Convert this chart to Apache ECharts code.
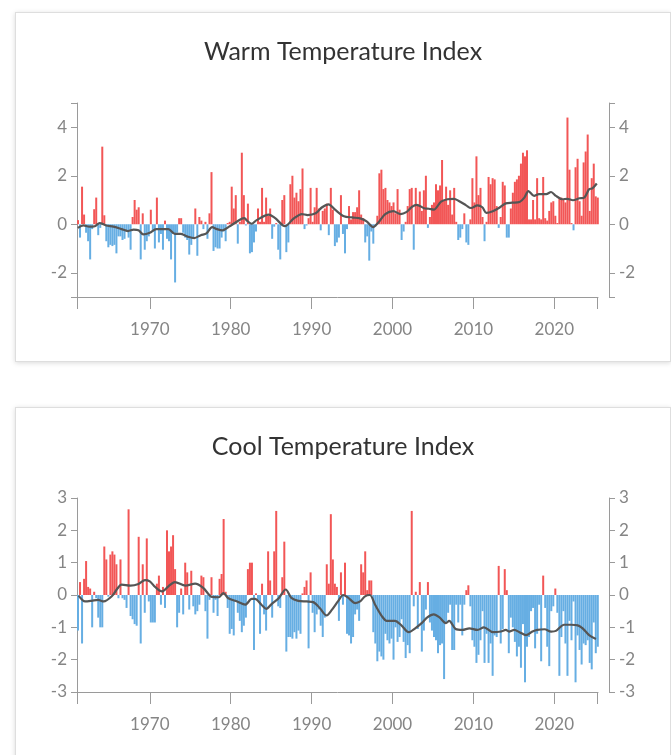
<!DOCTYPE html>
<html>
<head>
<meta charset="utf-8">
<title>Temperature Index</title>
<script src="https://cdn.jsdelivr.net/npm/echarts@6/dist/echarts.min.js"></script>
<style>
    body { margin: 0; background: #fff; font-family: Lato, sans-serif; }
    .card {
        position: absolute;
        left: 15px;
        width: 654px;
        background: #fff;
        border: 1px solid #dedede;
        box-shadow: 0 1px 5px rgba(0, 0, 0, 0.15);
    }
    .chart { width: 654px; height: 348px; }
</style>
</head>
<body>
<div class="card" style="top: 12px; height: 348px;"><div id="warm" class="chart"></div></div>
<div class="card" style="top: 407px; height: 360px;"><div id="cool" class="chart"></div></div>
<script>
// quarterly index values, first bar = 1961 Q1
const warmValues = [
    0.17, -0.55, 1.55, 0.4, -0.35, -0.7, -1.45, -0.2, 0.62, 1.1,
    -0.45, -0.15, 3.2, 0.37, -0.7, -0.95, -0.85, -0.9, -0.85, -1.2,
    -0.5, -0.5, -0.65, -0.6, -0.3, -0.55, -1.05, 0.3, 1.0, 0.6,
    0.7, -1.45, 0.45, -1.05, -0.7, -0.5, 0.6, -0.3, -1.0, 1.1,
    -0.75, -0.4, -1.05, 0.15, -0.6, -0.7, -1.45, -0.4, -2.4, -0.35,
    0.25, 0.25, -0.35, -0.55, -0.65, -1.25, -0.85, -0.6, 0.65, -1.3,
    0.3, 0.15, -0.2, 0.1, -0.6, 0.45, 2.15, -1.1, -0.95, -1.0,
    -1.0, -0.55, -0.3, -0.7, 0.05, 0.1, 1.55, 0.65, 1.2, -0.8,
    0.1, 2.95, 1.2, -0.05, 0.85,
    -1.2, -1.15, -0.75, -0.3, 0.65, 0.1, 1.5, 0.1, 1.1, 0.35,
    0.65, -0.6, -0.1, 0.05, -1.05, -1.45, 1.0, 1.2, -1.15, -0.75,
    1.65, 2.0, 1.1, 1.3, 0.95, 1.45, 2.3, -0.2, -0.05, 0.25,
    1.5, 0.1, 0.7, 1.5, 0.65, -0.25, 0.55, 0.65, 0.85, -0.45,
    1.5, 0.6, -0.9, -0.75, -0.55, 1.2, -0.4, -1.2, -0.2, 0.75,
    0.2, 0.5, 0.5, 0.7, 1.4, 0.4, 0.25, -0.75, -0.5, -1.5,
    -0.3, -0.8, -0.1, 0.35, 2.1, 2.25, 1.45, 1.5, 1.0, 0.9,
    0.75, 0.9, 0.45, 1.45, 0.6, -0.65, -0.3, 0.1, 0.75, 1.45,
    1.5, -1.05, 1.5, 0.8, 1.35, 0.55, 1.4, 2.0,
    -0.15, 0.3, 0.8, 0.9, 1.65, 1.4, 1.6, 2.65, 1.0, 1.55,
    0.8, 1.4, 0.4, 1.5, 0.1, -0.65, -0.55, -0.2, 0.45, -0.75,
    -0.85, 0.2, 1.9, 0.9, 2.8, 1.2, 1.5, 0.3, -0.7, 0.1,
    1.95, 1.65, 1.9, 1.85, 0.75, -0.15, 0.3, 1.75, 1.6, -0.55,
    -0.55, 0.65, 1.3, 1.75, 1.85, 2.0, 2.5, 2.95, 2.8, 3.05,
    0.2, 0.2, 1.0, 0.2, 1.9, 0.25, 0.2, 1.95, 0.25, 0.15,
    0.55, 0.9, 0.95, 0.35, 0.05, 1.1, 1.1, 1.0, 0.9, 4.4,
    2.25, 0.05, -0.25, 2.35, 2.7, 0.95, 0.35, 2.55, 3.0, 3.7,
    0.55, 1.9, 2.5, 1.15, 1.1
];

const coolValues = [
    -1.1, 0.4, -1.5, 0.5, 1.05, 0.25, 0.2, -1.0, 0.1, -0.1,
    -0.7, -1.0, -1.0, 1.5, 1.1, -0.05, 1.25, 1.35, 1.25, 0.95,
    -0.1, 1.1, -0.1, -0.15, -0.4, 2.65, -0.65, -0.75, -0.9, -0.95,
    1.8, -1.5, 0.95, -0.55, 1.75, -0.2, -0.85, -0.85, -0.85, 0.35,
    0.6, -0.3, 0.25, -0.4, 2.0, 1.35, 1.5, 1.85, 0.8, -1.0,
    -0.55, 0.2, -0.6, 1.0, 0.7, -0.45, 0.75, -0.35, -0.6, -0.5,
    -0.3, 0.6, 0.55, -0.5, -1.35, -0.15, 0.55, -0.55, -0.15, -0.65,
    0.5, 0.65, 2.35, 0.1, -0.4, -1.2, -1.05, -1.25, -0.2, -0.55,
    -0.8, -1.15, -0.95, -0.7,
    0.8, 1.0, 1.0, -1.7, 0.05, -0.15, -1.2, 0.35, -0.6, -1.1,
    1.35, 0.45, -0.7, 1.35, 2.6, -0.35, -0.4, 0.55, 1.65, -1.75,
    -1.3, -1.3, -1.35, -1.15, -1.35, -1.1, -1.2, 0.05, 0.25, 0.45,
    -1.65, 0.7, -0.55, -1.15, -0.6, -0.45, -0.95, -1.3, -0.7, 0.95,
    0.35, 2.5, 1.1, 0.35, 0.25, -0.8, 0.7, -0.3, 1.0, -1.2,
    -1.25, -1.5, -1.3, -0.6, -0.45, -0.8, 0.95, 0.7, 1.35, 0.15,
    0.45, 0.45, -1.15, -1.5, -2.05, -1.75, -1.9, -2.0, -1.2, -1.4,
    -1.5, -1.35, -2.0, -1.0, -1.45, -1.3, -0.75, -1.45, -1.95, -1.55,
    -1.8, 2.6, -0.35, 0.1, -1.05, 0.4, -1.75, -1.1, -0.45, 0.4,
    -0.85, -1.1, -1.3, -1.4, -1.8, -1.55, -1.5, -2.6, -0.85, -0.55,
    -0.3, -1.7, -1.7, -0.3, -0.85, -0.3, -1.25, -0.3, 0.15, 0.3,
    -0.35, -1.4, -1.6, -2.1, -1.85, -1.4, -0.5, -2.1, -1.2, -2.1,
    -1.5, -2.5, -1.25, -1.3, 0.9, -1.5, -1.05, 0.8, 0.15, -1.8,
    -0.7, -1.0, -1.45, -1.9, -1.6, -2.25, -0.9, -2.7, -1.6, -1.3,
    -0.5, -0.4, -1.65, -1.2, -0.3, -2.05, 0.6, -0.4, -1.6, -2.2,
    -0.5, -0.35, 0.2, -0.55, -2.5, -1.3, -0.5, -1.5, -2.5, -0.8,
    -1.4, -0.2, -2.7, -1.25, -1.7, -2.15, -1.5, -1.55, -1.4, -2.1,
    -2.3, -0.85, -1.8, -1.6
];

// smoothed trend line
const warmLineYears = [
    1961.1, 1961.8, 1962.5, 1963.2, 1963.8, 1964.6, 1965.5, 1966.5, 1967.3, 1968.0,
    1968.6, 1969.2, 1970.0, 1970.8, 1971.6, 1972.3, 1973.1, 1973.8, 1974.6, 1975.5,
    1976.3, 1977.0, 1977.7, 1978.3, 1979.0, 1979.8, 1980.5, 1981.3, 1981.7, 1982.0,
    1982.6, 1983.2, 1984.7, 1985.5, 1986.7, 1987.8, 1988.8, 1989.5, 1990.5, 1991.3,
    1992.1, 1992.9, 1994.0, 1995.0, 1996.0, 1996.8, 1997.6, 1998.2, 1999.1, 2000.1,
    2001.0, 2001.7, 2002.4, 2003.0, 2003.9, 2004.5, 2005.1, 2006.0, 2006.8, 2007.6,
    2008.2, 2009.1, 2009.7, 2010.5, 2011.1, 2011.6, 2012.4, 2013.2, 2014.0, 2014.8,
    2015.7, 2016.3, 2016.8, 2017.5, 2018.1, 2019.0, 2019.6, 2020.2, 2021.0, 2021.6,
    2022.3, 2023.1, 2023.7, 2024.3, 2024.7, 2025.25
];
const warmLineValues = [
    -0.15, -0.05, -0.1, -0.08, 0.05, -0.05, -0.1, -0.2, -0.28, -0.22,
    -0.25, -0.42, -0.35, -0.2, -0.2, -0.2, -0.4, -0.4, -0.5, -0.57,
    -0.45, -0.38, -0.12, -0.2, -0.25, -0.1, 0.05, 0.22, 0.25, 0.15,
    0.02, 0.17, 0.4, 0.25, -0.08, 0.24, 0.42, 0.38, 0.45, 0.7,
    0.82, 0.6, 0.33, 0.28, 0.24, 0.12, -0.12, 0.05, 0.42, 0.54,
    0.42, 0.5, 0.72, 0.8, 0.66, 0.64, 0.6, 0.93, 1.03, 1.05,
    0.96, 0.78, 0.67, 0.78, 0.7, 0.47, 0.54, 0.68, 0.86, 0.89,
    0.92, 1.1, 1.37, 1.17, 1.24, 1.24, 1.33, 1.17, 1.03, 1.05,
    0.99, 1.07, 1.1, 1.44, 1.48, 1.68
];

const coolLineYears = [
    1961.2, 1962.0, 1962.8, 1963.6, 1964.3, 1965.3, 1966.0, 1966.5, 1967.6, 1968.6,
    1969.4, 1970.0, 1970.65, 1971.5, 1972.3, 1973.1, 1974.4, 1975.6, 1976.6, 1977.7,
    1978.5, 1979.1, 1979.7, 1980.8, 1981.8, 1982.6, 1983.0, 1983.8, 1984.4, 1985.05,
    1985.9, 1986.8, 1987.5, 1988.35, 1989.4, 1990.2, 1991.0, 1991.85, 1992.5, 1993.3,
    1993.9, 1994.5, 1995.4, 1996.0, 1996.6, 1997.2, 1997.85, 1998.7, 1999.3, 2000.3,
    2001.1, 2002.0, 2002.8, 2003.6, 2004.3, 2005.1, 2005.8, 2006.6, 2007.0, 2007.8,
    2008.65, 2009.5, 2010.5, 2011.3, 2012.4, 2013.4, 2014.0, 2014.4, 2015.05, 2015.7,
    2016.5, 2017.3, 2017.9, 2018.8, 2019.6, 2020.2, 2021.2, 2022.05, 2022.9, 2023.5,
    2024.3, 2025.15
];
const coolLineValues = [
    -0.02, -0.2, -0.18, -0.15, -0.2, -0.04, 0.2, 0.32, 0.29, 0.34,
    0.46, 0.42, 0.25, 0.11, 0.27, 0.4, 0.29, 0.35, 0.22, -0.06,
    -0.07, 0.06, -0.1, -0.2, -0.3, -0.12, -0.12, -0.3, -0.43, -0.28,
    -0.11, 0.17, -0.09, -0.18, -0.2, -0.22, -0.4, -0.63, -0.46, -0.18,
    0.0, -0.08, -0.25, -0.2, -0.04, 0.0, -0.3, -0.66, -0.8, -0.8,
    -0.94, -1.15, -1.03, -0.87, -0.69, -0.6, -0.69, -0.87, -0.8, -1.05,
    -1.08, -1.03, -1.08, -1.0, -1.15, -1.13, -1.08, -1.13, -1.08, -1.15,
    -1.24, -1.13, -1.08, -1.06, -1.13, -1.11, -0.92, -0.92, -0.94, -1.03,
    -1.24, -1.36
];

const yearTicks = [1961, 1970, 1980, 1990, 2000, 2010, 2020, 2025.25];
const yearLabels = [1970, 1980, 1990, 2000, 2010, 2020];

const RED = '#f25656';
const BLUE = '#66aee3';
const AXIS = '#9a9a9a';
const LABEL = '#858585';

document.addEventListener('DOMContentLoaded', () => {
    drawIndex('warm', 'Warm Temperature Index', warmValues, warmLineYears, warmLineValues, {
        min: -3, max: 5, ticks: [-3, -2, 0, 2, 4, 5], labels: [-2, 0, 2, 4]
    });
    drawIndex('cool', 'Cool Temperature Index', coolValues, coolLineYears, coolLineValues, {
        min: -3, max: 3, ticks: [-3, -2, -1, 0, 1, 2, 3], labels: [-3, -2, -1, 0, 1, 2, 3]
    });
});

function yAxisFor(cfg, position) {
    return {
        type: 'value',
        position: position,
        offset: position === 'right' ? 11 : 0,
        min: cfg.min,
        max: cfg.max,
        axisLine: { show: true, lineStyle: { color: AXIS, width: 1 } },
        axisTick: { show: true, length: 6, customValues: cfg.ticks, lineStyle: { color: AXIS } },
        axisLabel: {
            customValues: cfg.labels,
            margin: 10,
            color: LABEL,
            fontSize: 17,
            fontFamily: 'Lato'
        },
        splitLine: { show: false }
    };
}

function drawIndex(id, title, values, lineYears, lineValues, yCfg) {
    const chart = echarts.init(document.getElementById(id));

    const bars = values.map((v, i) => [1961.125 + i * 0.25, v]);
    const trend = lineYears.map((yr, i) => [yr, lineValues[i]]);

    chart.setOption({
        animation: false,
        title: {
            text: title,
            left: 'center',
            top: 21,
            textStyle: { fontFamily: 'Lato', fontSize: 25, fontWeight: 'normal', color: '#333' }
        },
        grid: { left: 61, top: 90, width: 521, height: 194 },
        xAxis: {
            type: 'value',
            min: 1961,
            max: 2025.4,
            axisLine: { show: true, onZero: false, lineStyle: { color: AXIS } },
            axisTick: { show: true, length: 12, customValues: yearTicks, lineStyle: { color: AXIS } },
            axisLabel: {
                customValues: yearLabels,
                formatter: v => String(v),
                margin: 24,
                color: LABEL,
                fontSize: 17,
                fontFamily: 'Lato'
            },
            splitLine: { show: false }
        },
        yAxis: [yAxisFor(yCfg, 'left'), yAxisFor(yCfg, 'right')],
        series: [
            {
                type: 'bar',
                data: bars,
                barWidth: 2,
                itemStyle: {
                    color: p => (p.value[1] >= 0 ? RED : BLUE)
                }
            },
            {
                type: 'line',
                data: trend,
                showSymbol: false,
                smooth: 0.3,
                z: 5,
                lineStyle: { color: '#555', width: 2.2 }
            }
        ]
    });
}
</script>
</body>
</html>
